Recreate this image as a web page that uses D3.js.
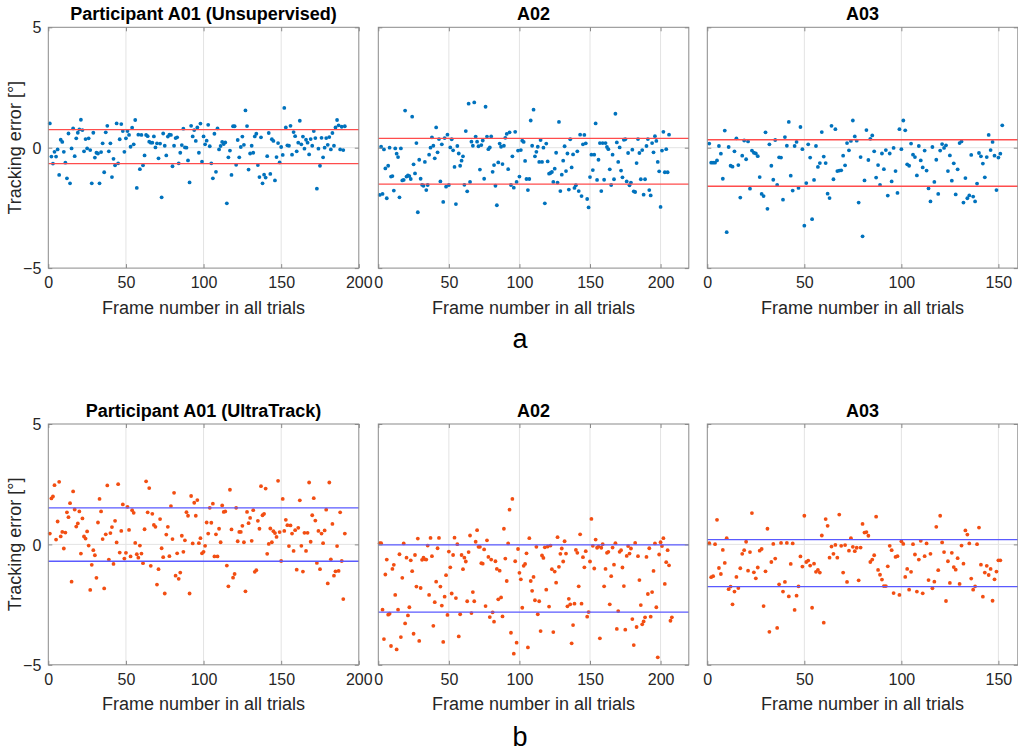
<!DOCTYPE html>
<html>
<head>
<meta charset="utf-8">
<script src="https://cdn.jsdelivr.net/npm/d3@7"></script>
<style>
body { margin: 0; background: #fff; }
svg { display: block; font-family: "Liberation Sans", Arial, sans-serif; }
</style>
</head>
<body>
<div id="container"></div>
<script>
// tracking error per frame (degrees)
var a01Unsup = [1.01,-0.37,-0.66,-0.17,-0.37,-0.07,-1.13,0.33,0.24,-0.17,-0.62,-1.27,0.59,-1.48,-0.03,0.80,-0.35,0.39,0.62,0.76,1.16,0.73,-0.15,0.36,-0.03,0.39,-0.10,-1.48,0.62,-0.41,-0.21,-0.24,-1.48,-0.18,0.18,-1.02,0.64,0.91,-0.15,0.18,-1.22,-0.46,-0.73,1.01,-0.65,0.35,0.98,0.69,-0.17,0.39,0.69,0.53,0.04,0.83,0.14,1.15,-1.67,0.54,-0.89,0.53,-0.73,-0.32,0.53,0.48,0.25,0.21,0.21,0.47,0.01,0.18,-0.44,0.17,-2.06,0.59,0.08,-0.32,0.46,0.54,0.53,-0.77,0.08,0.40,0.43,-0.65,-0.21,0.11,0.79,0.01,0.00,-0.53,-1.44,0.91,0.47,0.73,0.28,0.84,-0.21,1.00,-0.58,0.47,0.14,
  0.29,0.95,0.06,-0.65,-1.27,0.58,-1.00,0.80,-0.07,0.07,0.24,0.15,0.22,-2.31,-0.40,-0.12,-1.13,0.89,0.89,-0.71,0.32,-0.40,0.03,0.46,0.12,1.55,0.90,-0.91,-0.24,0.08,-0.21,0.47,0.58,-0.72,-1.22,0.43,-1.48,-1.12,-1.24,-0.35,0.61,-1.09,0.35,0.28,-1.36,-0.39,0.19,-0.61,0.03,-0.30,1.65,0.84,0.10,0.08,0.91,-0.29,0.65,0.48,-0.15,0.21,1.12,0.14,0.46,-0.04,0.33,0.21,-0.28,0.36,0.08,0.69,0.40,-1.70,-0.04,-0.75,0.41,-0.40,0.00,0.40,0.12,0.44,-0.07,0.61,0.08,0.84,1.15,0.93,-0.07,0.87,-0.10,0.89];

var a02Unsup = [-1.96,0.04,-1.92,-0.07,-0.86,-2.10,-0.75,0.00,-1.20,-1.18,-1.78,-0.03,-0.25,-0.39,-2.06,-0.03,-1.36,-1.34,1.54,-1.20,-1.15,-1.18,-1.30,1.29,-0.69,-1.07,0.19,-2.68,-0.50,-1.29,-1.54,-1.58,-0.59,-1.76,-1.55,-0.29,0.00,0.43,0.08,-0.44,0.84,-0.19,0.36,-1.40,0.14,-2.25,0.40,-1.62,0.54,-1.55,0.01,0.35,-0.11,-0.80,-2.34,0.07,-0.24,-0.75,-0.54,-0.36,-1.54,0.69,-1.81,1.83,-1.42,0.25,0.08,1.88,0.46,0.25,0.06,-0.91,0.11,0.30,-1.29,1.70,0.46,-0.06,0.01,0.47,-1.00,-0.72,-1.58,-2.39,-0.61,0.17,0.04,-0.68,0.08,0.41,0.57,-0.89,0.64,-1.55,-0.36,-1.66,0.66,-1.42,-0.12,-1.20,-0.10,0.29,0.24,-0.55,-1.30,-1.76,-1.30,1.13,0.08,1.58,-0.36,-0.17,
  0.04,-0.59,0.32,-0.59,0.00,-2.31,0.17,-0.57,-1.08,-1.05,-1.01,-1.42,-0.87,-0.21,-1.45,1.07,-1.80,-1.12,-0.54,0.06,-0.97,-0.24,-1.74,0.35,-0.82,-0.28,-1.67,-1.56,-0.15,-1.80,0.54,-2.01,0.14,0.53,0.18,-2.13,-2.48,-1.22,-0.29,-0.93,-0.29,1.01,-1.34,-0.50,0.19,-1.80,0.19,-1.33,0.19,0.03,-0.06,-0.90,-1.55,-0.29,-1.31,1.41,0.22,-0.59,0.01,-0.95,-1.23,0.33,0.35,-1.40,-0.22,-1.56,-1.45,-0.08,-1.81,-1.84,-0.64,0.36,-0.22,-1.31,-0.10,-1.95,-1.31,0.07,0.36,-1.76,-1.98,0.19,-0.19,0.48,0.28,-0.59,-0.98,-2.46,-0.12,0.66,-1.02,-0.06,-1.02,0.54];

var a03Unsup = [0.17,-0.62,-0.62,-0.62,-0.53,0.07,-0.25,-1.29,0.71,-3.51,0.03,-0.75,-0.79,-0.15,0.39,-0.72,-2.07,-0.33,0.30,-0.48,0.26,-1.70,-0.12,-0.21,-0.24,-0.35,-1.22,-1.92,-2.01,0.64,-2.54,0.14,-0.75,-1.33,0.32,-1.55,-0.40,-0.41,-2.16,0.44,0.08,1.07,-1.16,-1.78,0.07,0.24,-1.67,0.86,-0.06,-3.24,-1.47,0.14,-0.41,-2.97,-1.34,0.07,-0.80,-0.64,0.65,-0.37,-0.64,-1.91,-2.09,0.91,-1.31,0.77,-0.97,-0.95,-0.94,-0.33,-0.73,0.19,-0.11,0.28,1.13,0.47,0.29,-2.28,-0.39,-3.68,-1.36,0.73,
  -0.51,0.37,0.51,-0.15,-1.24,-0.72,-1.55,-0.24,-0.89,-0.10,-1.99,-0.24,-1.40,-0.01,-0.97,-1.88,0.77,-0.06,1.13,0.72,-0.69,-0.75,0.17,-0.29,-0.39,-1.15,0.07,-0.53,-0.82,-0.12,-0.95,-1.69,-2.23,0.03,-1.42,-0.50,-1.92,-0.12,0.15,-0.01,0.10,-0.97,-0.32,-1.37,-0.65,-1.94,-0.90,0.19,0.26,-2.28,-1.26,-2.10,-1.98,-0.30,-2.03,-2.23,-1.49,-0.22,-0.36,-0.66,-1.23,-0.39,0.53,-0.10,0.24,-0.33,-1.76,-0.41,-0.25,0.93];

var a01Ultra = [0.45,1.91,1.99,2.46,0.20,0.95,2.60,0.33,0.52,-0.17,0.49,1.33,1.13,1.71,-1.55,2.20,1.45,0.74,0.87,1.37,-0.38,1.08,0.33,0.24,0.54,-0.05,-1.89,-0.85,-0.24,-0.45,-1.39,0.91,1.89,1.37,0.22,-1.83,0.42,2.45,-0.63,0.47,0.72,-0.81,0.98,0.08,2.50,-0.34,0.56,1.66,-0.59,-0.35,1.56,0.60,-0.50,1.42,1.31,0.06,-0.41,-0.55,-0.05,-0.38,-0.78,0.63,2.62,1.33,2.34,-0.89,1.27,0.81,0.73,-1.67,-1.03,1.05,-0.16,-0.53,-2.04,0.41,0.73,-0.49,1.59,0.22,2.14,-1.30,-0.37,-1.43,-1.17,0.36,-0.31,0.17,1.34,1.19,-2.04,2.01,0.04,1.73,1.19,1.84,0.05,0.26,-0.37,-0.31,-0.06,0.91,
  0.45,1.52,0.90,1.69,-0.50,0.42,-0.50,0.65,0.09,1.62,1.35,1.37,-0.88,-1.74,2.27,0.62,-1.38,-1.23,1.52,0.13,0.52,0.52,0.77,0.09,-1.95,1.35,0.88,1.10,0.15,1.42,-1.14,-1.07,0.98,0.65,2.42,1.21,1.27,2.32,-0.39,0.02,0.66,0.09,0.55,0.47,0.31,2.64,0.51,-0.69,1.89,0.56,1.02,0.80,-0.07,0.79,0.45,-0.27,0.59,-1.05,0.69,1.83,-0.06,-1.13,0.48,-0.27,0.48,2.57,0.11,1.21,1.92,0.99,-0.77,0.56,-1.03,0.45,0.05,0.58,1.44,-1.62,2.57,-0.62,0.85,-1.30,-1.12,-0.07,-1.10,1.33,-0.69,-2.27,0.45];

var a02Ultra = [0.05,0.05,-2.71,-3.93,-1.25,-0.63,-2.92,-2.88,-4.22,-1.02,-0.85,-2.10,-4.36,-2.71,-0.41,-3.85,-1.39,0.04,-3.28,-0.55,-2.95,-2.61,-0.66,-1.11,-3.71,-0.44,-1.75,0.24,-4.01,-1.81,-0.64,-0.55,-0.62,-0.63,-0.05,-2.10,0.27,-0.49,-3.38,-2.40,-1.55,-0.16,0.27,-1.75,-2.54,-4.05,-2.17,-1.28,-2.93,-0.30,-0.95,-2.04,-0.44,0.28,-2.23,0.01,-3.82,-2.90,-0.44,-1.03,-0.55,-0.71,-2.36,-0.32,0.37,-2.85,-1.98,-2.36,0.11,0.59,-0.10,-0.10,-0.78,-0.80,-0.21,-2.56,0.17,-0.52,-3.02,-0.63,-2.82,-3.21,-0.70,-1.02,-2.28,-1.09,-2.20,-2.99,0.65,-0.59,-1.52,0.04,1.44,-3.67,1.89,-4.54,-0.70,-4.08,-0.19,-1.18,-1.45,-2.63,-0.89,-0.81,-0.37,-4.28,0.26,-1.52,-1.93,-1.35,-2.32,-0.10,
  -2.90,-2.36,-3.60,-0.46,-0.56,-0.12,-1.88,-0.09,-2.58,-0.05,-1.03,-3.64,-1.13,-1.59,0.30,-0.93,-0.39,-0.17,-0.71,0.13,-0.38,-2.57,-2.26,-2.49,-4.11,-3.35,-2.46,-0.23,-0.35,-1.74,0.42,-2.46,-0.53,-0.95,-0.28,-3.00,-2.81,-0.71,1.06,-0.06,-1.00,0.20,-0.14,-0.09,-3.90,-0.14,0.01,-1.74,-1.02,-0.35,-0.31,-2.49,-1.32,-0.13,-0.84,0.05,-3.51,-2.77,-0.31,-0.24,-0.96,-1.73,-3.54,-0.48,-0.07,-0.38,-0.17,-3.10,-4.18,0.06,-3.43,-0.49,-1.48,-2.52,-3.32,-3.20,-3.03,-0.52,-2.06,-0.16,-3.00,-1.98,-1.10,0.04,-2.61,-4.69,-0.42,0.09,-0.07,0.26,-1.64,-0.74,-0.24,-0.87,-3.17,-3.03];

var a03Ultra = [0.05,-1.36,-1.32,0.01,1.02,-0.98,-1.23,-0.23,-0.77,0.26,-1.86,-1.75,-2.49,-1.96,-1.35,-1.81,-0.99,-0.39,-0.24,0.11,-1.09,-0.32,1.30,-1.16,-1.41,-0.96,-0.26,-0.19,-2.56,-1.12,0.65,-3.63,-0.73,0.02,-0.59,-3.47,-1.66,0.06,-1.96,-1.56,0.06,-2.16,-0.81,0.04,-2.72,-2.13,-1.74,-0.50,-0.92,1.19,-0.73,-0.67,-0.88,-2.63,-0.80,-1.14,-1.06,-1.17,0.37,-3.25,1.05,0.77,-0.55,-0.09,-0.39,-0.02,-0.55,1.24,-0.06,-1.17,-0.03,-1.56,-0.26,0.26,-0.10,-0.28,-0.14,-1.49,-0.13,0.85,0.49,
  0.51,0.36,-0.73,-0.63,-0.45,1.15,-1.06,-1.26,-1.46,-1.73,-1.73,-0.91,-0.06,-0.24,-2.02,-0.52,-0.49,-2.10,0.13,0.02,-1.35,-1.02,-1.88,-1.14,0.01,-0.42,-1.96,-0.63,0.15,-2.03,-0.49,0.04,-1.48,-0.39,-1.82,-1.55,0.73,-1.07,1.19,0.08,-0.32,-2.35,-0.70,-1.60,-0.35,-0.94,-1.05,-0.57,-1.64,-0.05,-0.80,0.58,0.41,0.04,-1.42,-1.88,-1.74,0.01,0.70,-0.84,-2.17,-1.17,-0.89,-1.27,-1.02,-2.34,-1.45,-1.13,-0.66,-0.66];

// horizontal reference lines [lower, upper]
var bandUnsup = [[-0.66, 0.75], [-1.51, 0.39], [-1.60, 0.33]];
var bandUltra = [[-0.70, 1.52], [-2.81, -0.02], [-1.75, 0.20]];

var titlesUnsup = ['Participant A01 (Unsupervised)', 'A02', 'A03'];
var titlesUltra = ['Participant A01 (UltraTrack)', 'A02', 'A03'];
var xMax = [200, 220, 160];
var xTicks = [0, 50, 100, 150, 200];
var yTicks = [-5, 0, 5];

var width = 1018, height = 753;
var panelLeft = [48.3, 378.3, 707.3],
    panelW = 310.5,
    panelH = 240.8,
    rowTop = [27.3, 424];

var svg = d3.select('#container')
    .append('svg')
    .attr('width', width)
    .attr('height', height);

function drawPanel(data, band, col, row, title, dotColor, lineColor) {
    var left = panelLeft[col], top = rowTop[row];
    var ticks = xTicks.filter(function(t) { return t <= xMax[col]; });

    var x = d3.scaleLinear().domain([0, xMax[col]]).range([left, left + panelW]);
    var y = d3.scaleLinear().domain([-5, 5]).range([top + panelH, top]);

    var g = svg.append('g');

    // grid
    g.append('g').selectAll('line')
        .data(ticks.filter(function(t) { return t > 0 && t < xMax[col]; }))
        .enter().append('line')
        .attr('x1', function(d) { return x(d); })
        .attr('x2', function(d) { return x(d); })
        .attr('y1', top)
        .attr('y2', top + panelH)
        .attr('stroke', '#e3e3e3')
        .attr('stroke-width', 1);
    g.append('line')
        .attr('x1', left).attr('x2', left + panelW)
        .attr('y1', y(0)).attr('y2', y(0))
        .attr('stroke', '#e3e3e3')
        .attr('stroke-width', 1);

    // points
    g.append('g').selectAll('circle')
        .data(data)
        .enter().append('circle')
        .attr('cx', function(d, i) { return x(i + 1); })
        .attr('cy', function(d) { return y(d); })
        .attr('r', 1.9)
        .attr('fill', dotColor);

    // reference lines
    g.append('g').selectAll('line')
        .data(band)
        .enter().append('line')
        .attr('x1', left).attr('x2', left + panelW)
        .attr('y1', function(d) { return y(d); })
        .attr('y2', function(d) { return y(d); })
        .attr('stroke', lineColor)
        .attr('stroke-width', 1.3);

    // axes, ticks inside
    g.append('g')
        .attr('transform', 'translate(0,' + (top + panelH) + ')')
        .call(d3.axisBottom(x).tickValues(ticks).tickSizeInner(-4).tickSizeOuter(0).tickPadding(9));
    g.append('g')
        .attr('transform', 'translate(0,' + top + ')')
        .call(d3.axisTop(x).tickValues(ticks).tickSizeInner(-4).tickSizeOuter(0).tickFormat(''));
    var axL = g.append('g')
        .attr('transform', 'translate(' + left + ',0)')
        .call(d3.axisLeft(y).tickValues(yTicks).tickSizeInner(-4).tickSizeOuter(0).tickPadding(7)
            .tickFormat(col === 0 ? d3.format('d') : ''));
    g.append('g')
        .attr('transform', 'translate(' + (left + panelW) + ',0)')
        .call(d3.axisRight(y).tickValues(yTicks).tickSizeInner(-4).tickSizeOuter(0).tickFormat(''));

    g.selectAll('.domain').remove();
    g.selectAll('.tick line').attr('stroke', '#8a8a8a');
    g.selectAll('.tick text')
        .attr('fill', '#262626')
        .style('font-size', '16px')
        .style('font-family', '"Liberation Sans", Arial, sans-serif');
    axL.selectAll('.tick text').attr('dy', '0.35em');

    // box
    g.append('rect')
        .attr('x', left).attr('y', top)
        .attr('width', panelW).attr('height', panelH)
        .attr('fill', 'none')
        .attr('stroke', '#8a8a8a')
        .attr('stroke-width', 1);

    g.append('text')
        .attr('x', left + panelW / 2)
        .attr('y', top - 7.5)
        .attr('text-anchor', 'middle')
        .style('font-size', '18px')
        .style('font-weight', 'bold')
        .attr('fill', '#000')
        .text(title);

    g.append('text')
        .attr('x', left + panelW / 2)
        .attr('y', top + panelH + 45.5)
        .attr('text-anchor', 'middle')
        .style('font-size', '18px')
        .attr('fill', '#262626')
        .text('Frame number in all trials');

    if (col === 0) {
        g.append('text')
            .attr('transform', 'translate(21,' + (top + panelH / 2) + ') rotate(-90)')
            .attr('text-anchor', 'middle')
            .style('font-size', '18px')
            .attr('fill', '#262626')
            .text('Tracking error [\u00b0]');
    }
}

var unsup = [a01Unsup, a02Unsup, a03Unsup];
var ultra = [a01Ultra, a02Ultra, a03Ultra];

unsup.forEach(function(d, i) {
    drawPanel(d, bandUnsup[i], i, 0, titlesUnsup[i], '#0072BD', '#ff4d4d');
});
ultra.forEach(function(d, i) {
    drawPanel(d, bandUltra[i], i, 1, titlesUltra[i], '#F24E12', '#5a5aff');
});

svg.append('text')
    .attr('x', 520).attr('y', 348)
    .attr('text-anchor', 'middle')
    .style('font-size', '27px')
    .attr('fill', '#000')
    .text('a');
svg.append('text')
    .attr('x', 520).attr('y', 746)
    .attr('text-anchor', 'middle')
    .style('font-size', '27px')
    .attr('fill', '#000')
    .text('b');
</script>
</body>
</html>
